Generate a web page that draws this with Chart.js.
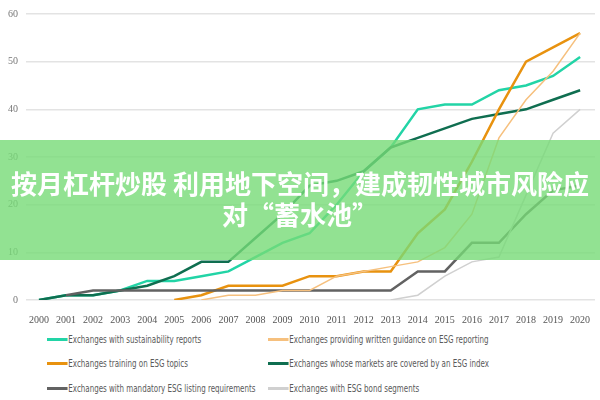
<!DOCTYPE html>
<html>
<head>
<meta charset="utf-8">
<script src="https://cdn.jsdelivr.net/npm/chart.js@4"></script>
<style>
  body { margin: 0; background: #fff; }
  #wrap { position: relative; width: 600px; height: 400px; overflow: hidden; }
  #chart { position: absolute; left: 0; top: 0; }
  .leg { position: absolute; font-family: "Liberation Sans Narrow", "DejaVu Sans Condensed", sans-serif; font-size: 10px; color: #595959; white-space: nowrap; transform: scaleX(0.79); transform-origin: left center; }
  .leg i { display: inline-block; width: 26px; height: 3px; vertical-align: middle; margin-right: 1px; position: relative; top: -1px; }
  #band { position: absolute; left: 0; top: 140px; width: 600px; height: 120px; background: rgba(119,219,119,0.8);
          color: #fff; font-family: "Noto Sans CJK SC", sans-serif; font-weight: bold; font-size: 26px; line-height: 31px;
          text-align: center; box-sizing: border-box; padding: 27px 0 0 0; }
</style>
</head>
<body>
<div id="wrap">
  <canvas id="chart" width="600" height="332"></canvas>
  <div id="legend"></div>
  <div id="band">按月杠杆炒股 利用地下空间，建成韧性城市风险应对“蓄水池”</div>
</div>
<script>
var years = [2000,2001,2002,2003,2004,2005,2006,2007,2008,2009,2010,2011,2012,2013,2014,2015,2016,2017,2018,2019,2020];
var yTicks = [0,10,20,30,40,50,60];

var sustainability = [0,1,1,2,4,4,5,6,9,12,14,20,27,32,40,41,41,44,45,47,51];
var guidance = [null,null,null,null,null,null,0,1,1,2,2,5,6,7,8,11,18,34,42,48,56];
var training = [null,null,null,null,null,0,1,3,3,3,5,5,6,6,14,19,29,40,50,53,56];
var esgIndex = [0,1,1,2,3,5,8,8,13,18,24,25,27,32,34,36,38,39,40,42,44];
var mandatory = [null,1,2,2,2,2,2,2,2,2,2,2,2,2,6,6,12,12,18,23,24];
var bonds = [null,null,null,null,null,null,null,null,null,null,null,null,null,0,1,5,8,9,22,35,40];

var labels = [
  'Exchanges with sustainability reports',
  'Exchanges providing written guidance on ESG reporting',
  'Exchanges training on ESG topics',
  'Exchanges whose markets are covered by an ESG index',
  'Exchanges with mandatory ESG listing requirements',
  'Exchanges with ESG bond segments'
];
var colores = ['#22d4a6', '#f6c07e', '#e8920f', '#0f6e50', '#626262', '#d0d0d0'];
var grosor = [2.5, 1.5, 2.5, 2.5, 2.5, 1.5];
var series = [sustainability, guidance, training, esgIndex, mandatory, bonds];

function puntos(arr) {
  var out = [];
  for (var i = 0; i < years.length; i++) {
    if (arr[i] !== null) out.push({x: years[i], y: arr[i]});
  }
  return out;
}

var datasets = [];
// draw order: light ones first
var orden = [5, 1, 4, 2, 3, 0];
orden.forEach(function (k) {
  datasets.push({
    label: labels[k],
    data: puntos(series[k]),
    borderColor: colores[k],
    backgroundColor: colores[k],
    borderWidth: grosor[k],
    pointRadius: 0,
    tension: 0,
    fill: false
  });
});

new Chart(document.getElementById('chart'), {
  type: 'line',
  data: { datasets: datasets },
  options: {
    responsive: false,
    animation: false,
    layout: { padding: { top: 4, right: 5, left: 0, bottom: 0 } },
    plugins: { legend: { display: false }, tooltip: { enabled: false } },
    scales: {
      x: {
        type: 'linear',
        min: 1999.52,
        max: 2020.55,
        afterBuildTicks: function (s) { s.ticks = years.map(function (v) { return {value: v}; }); },
        grid: { display: false },
        border: { display: false },
        ticks: {
          autoSkip: false, maxRotation: 0, padding: 6,
          color: '#555', font: { family: 'Liberation Sans Narrow', size: 10 },
          callback: function (v) { return String(v); }
        }
      },
      y: {
        min: 0, max: 60,
        afterBuildTicks: function (s) { s.ticks = yTicks.map(function (v) { return {value: v}; }); },
        grid: { color: '#e3e3e3', lineWidth: 1.5, drawTicks: false },
        border: { display: false },
        ticks: { padding: 8, color: '#777', font: { family: 'Liberation Sans Narrow', size: 10 } }
      }
    }
  }
});

// leyenda en dos columnas
var pos = [[47, 334], [268, 334], [47, 358], [268, 358], [47, 383], [268, 383]];
var leg = document.getElementById('legend');
for (var i = 0; i < labels.length; i++) {
  var d = document.createElement('div');
  d.className = 'leg';
  d.style.left = pos[i][0] + 'px';
  d.style.top = pos[i][1] + 'px';
  d.innerHTML = '<i style="background:' + colores[i] + '"></i>' + labels[i];
  leg.appendChild(d);
}
</script>
</body>
</html>
